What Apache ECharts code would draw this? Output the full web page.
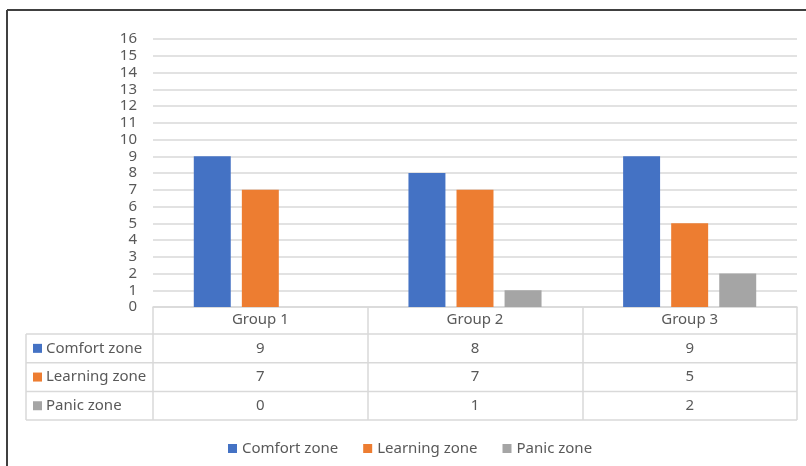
<!DOCTYPE html>
<html>
<head>
<meta charset="utf-8">
<script src="https://cdn.jsdelivr.net/npm/echarts@6/dist/echarts.min.js"></script>
<style>
  html, body { margin: 0; padding: 0; background: #fff; }
  #chart { width: 806px; height: 466px; }
</style>
</head>
<body>
<div id="chart"></div>
<script>
// data
const groups = ['Group 1', 'Group 2', 'Group 3']
const seriesNames = ['Comfort zone', 'Learning zone', 'Panic zone']
const comfortZone = [9, 8, 9]
const learningZone = [7, 7, 5]
const panicZone = [0, 1, 2]
const yMin = 0
const yMax = 16
const yStep = 1

const colors = ['#4472C4', '#ED7D31', '#A5A5A5']
const textColor = '#595959'
const lineColor = '#D9D9D9'
const font = '"Noto Sans", sans-serif'

const chart = echarts.init(document.getElementById('chart'))

// grid bounds (px)
const gridLeft = 153
const gridRight = 9
const gridTop = 39
const gridBottom = 159

const option = {
  color: colors,
  animation: false,
  textStyle: { fontFamily: font },
  legend: {
    data: seriesNames,
    top: 436,
    left: 223,
    icon: 'rect',
    itemWidth: 9,
    itemHeight: 9,
    itemGap: 25,
    textStyle: { color: textColor, fontSize: 15, fontFamily: font },
  },
  grid: {
    left: gridLeft,
    right: gridRight,
    top: gridTop,
    bottom: gridBottom,
    containLabel: false,
  },
  xAxis: {
    type: 'category',
    data: groups,
    axisLine: { show: true, lineStyle: { color: lineColor, width: 1.5 } },
    axisTick: { show: true, length: 113, lineStyle: { color: lineColor, width: 1.5 } },
    axisLabel: { color: textColor, fontSize: 15, margin: 5, fontFamily: font },
  },
  yAxis: {
    type: 'value',
    min: yMin,
    max: yMax,
    interval: yStep,
    axisLine: { show: false },
    axisTick: { show: false },
    splitLine: { lineStyle: { color: lineColor, width: 1.5 } },
    axisLabel: { color: textColor, fontSize: 15, margin: 16, fontFamily: font },
  },
  series: [
    { name: seriesNames[0], type: 'bar', data: comfortZone, barGap: '30%', barCategoryGap: '38%' },
    { name: seriesNames[1], type: 'bar', data: learningZone },
    { name: seriesNames[2], type: 'bar', data: panicZone },
  ],
}

chart.setOption(option)

// data table below the plot, placed from the category axis
function buildTable() {
  const centers = groups.map((g) => chart.convertToPixel({ xAxisIndex: 0 }, g))
  const band = centers[1] - centers[0]
  const x1 = centers[centers.length - 1] + band / 2
  const yTop = chart.convertToPixel({ yAxisIndex: 0 }, yMin)
  const headerH = 27
  const rowH = 28.7
  const labelLeft = 26
  const rows = [comfortZone, learningZone, panicZone]
  const els = []
  const ln = (xa, ya, xb, yb, color, w) => ({
    type: 'line',
    shape: { x1: xa, y1: ya, x2: xb, y2: yb },
    style: { stroke: color || lineColor, lineWidth: w || 1.5 },
    silent: true,
  })

  const rowTop = yTop + headerH
  const tableBottom = rowTop + rowH * rows.length
  // horizontal row lines
  for (let i = 0; i <= rows.length; i++) {
    const y = rowTop + rowH * i
    els.push(ln(labelLeft, y, x1, y))
  }
  // left border of the series-name column
  els.push(ln(labelLeft, rowTop, labelLeft, tableBottom))

  rows.forEach((vals, r) => {
    const cy = rowTop + rowH * r + rowH / 2
    els.push({
      type: 'rect',
      shape: { x: 33, y: cy - 4.5, width: 9, height: 9 },
      style: { fill: colors[r] },
      silent: true,
    })
    els.push({
      type: 'text',
      style: {
        x: 46, y: cy, text: seriesNames[r], fill: textColor,
        font: '15px ' + font, textVerticalAlign: 'middle', textAlign: 'left',
      },
      silent: true,
    })
    vals.forEach((v, c) => {
      els.push({
        type: 'text',
        style: {
          x: centers[c], y: cy, text: String(v), fill: textColor,
          font: '15px ' + font, textVerticalAlign: 'middle', textAlign: 'center',
        },
        silent: true,
      })
    })
  })

  // outer chart frame (top and left edges)
  els.push(ln(7, 10, 806, 10, '#404040', 2))
  els.push(ln(7, 10, 7, 466, '#404040', 2))

  chart.setOption({ graphic: els })
}

buildTable()
</script>
</body>
</html>
